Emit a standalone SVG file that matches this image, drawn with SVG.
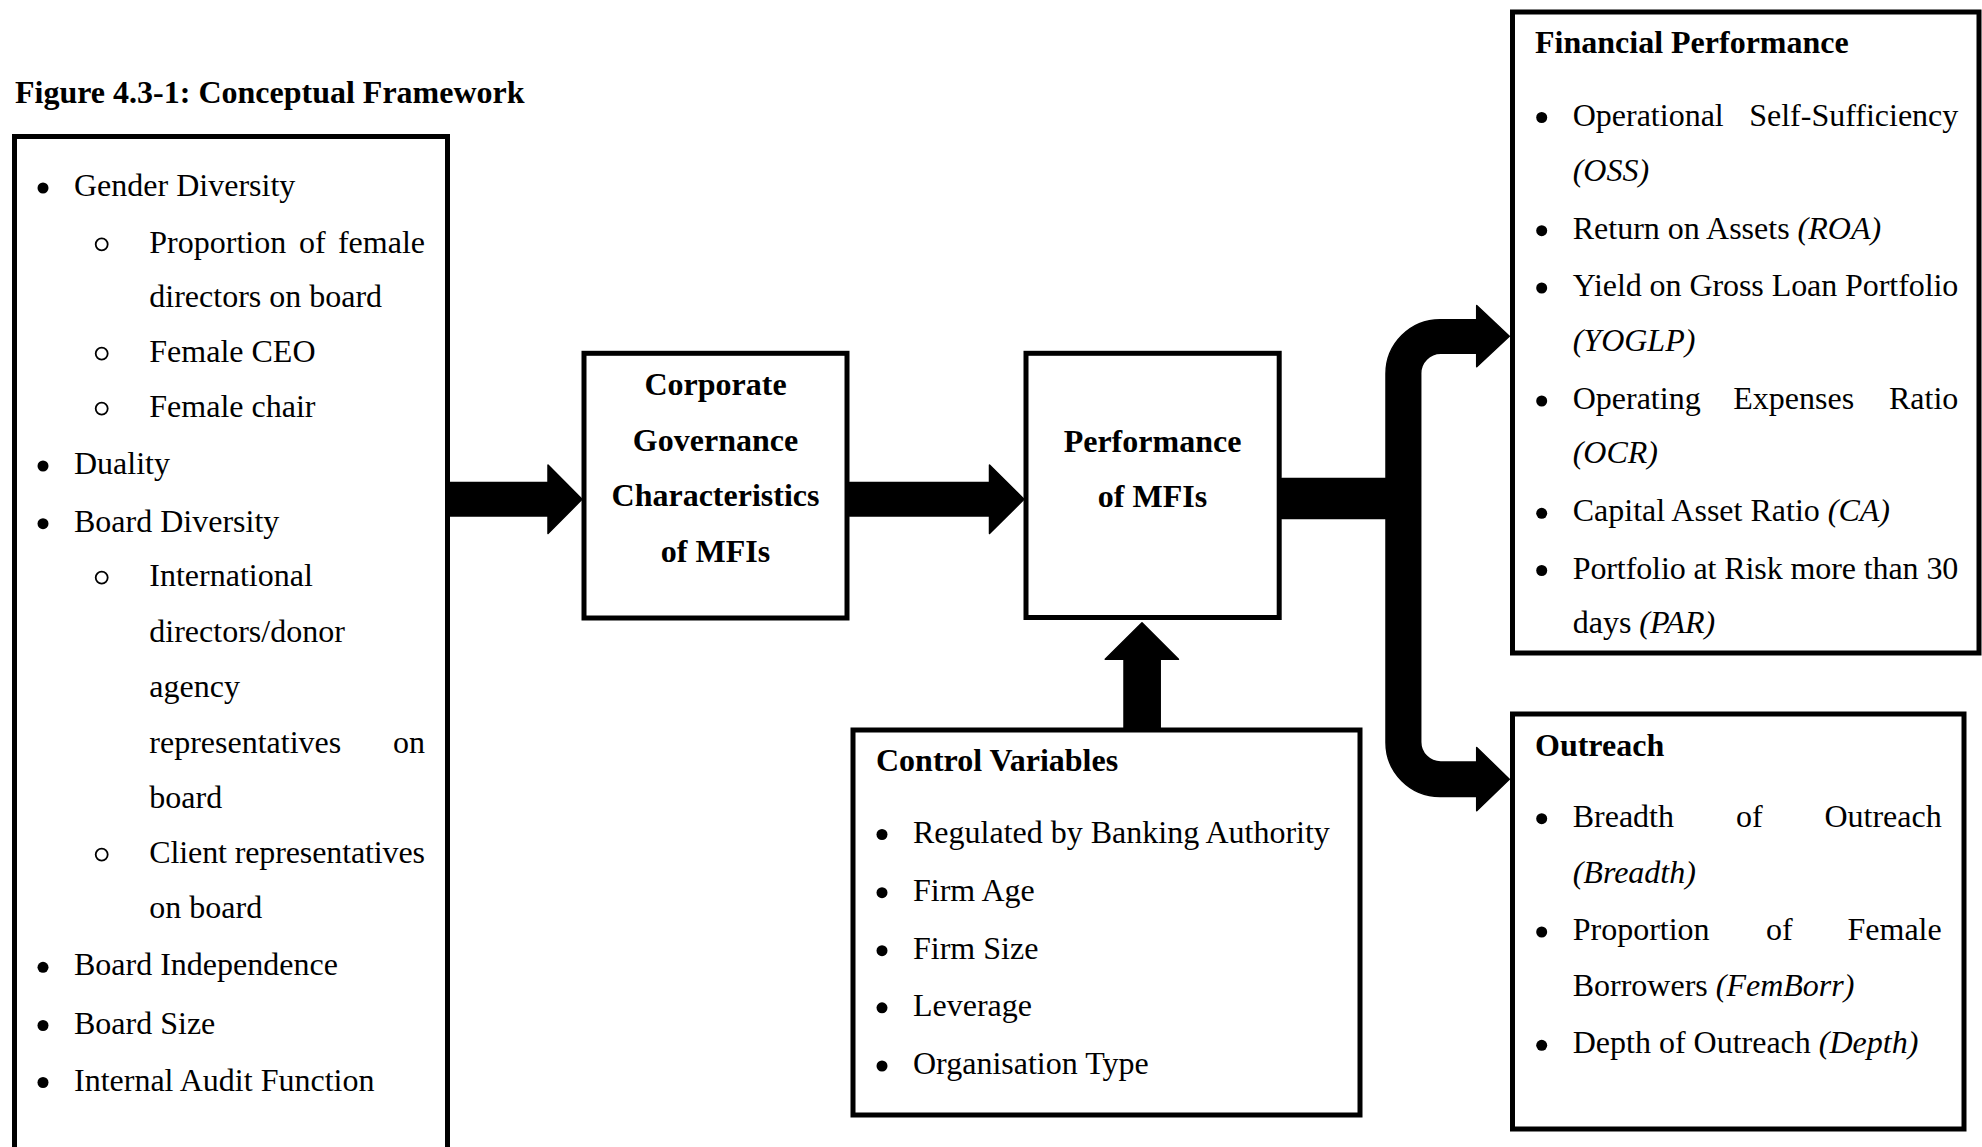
<svg xmlns="http://www.w3.org/2000/svg" width="1982" height="1147" viewBox="0 0 1982 1147">
<style>
text{font-family:"Liberation Serif","Times New Roman",serif;font-size:32px;fill:#000}
.b{font-weight:bold}
.c{text-anchor:middle}
.e{text-anchor:end}
.i{font-style:italic}
.box{fill:#fff;stroke:#000;stroke-width:5}
.dot{fill:#000}
.ring{fill:none;stroke:#000;stroke-width:1.8}
.arr{fill:#000;stroke:#000;stroke-width:1.5;stroke-linejoin:round}
</style>
<rect width="1982" height="1147" fill="#fff"/>
<text class="b" x="15" y="102.7">Figure 4.3-1: Conceptual Framework</text>

<g id="connectors">
<polygon class="arr" points="450,482.5 548,482.5 548,465 582,499.3 548,533.5 548,516 450,516"/>
<polygon class="arr" points="849.5,482.5 989.5,482.5 989.5,465 1024,499.3 989.5,533.5 989.5,516 849.5,516"/>
<polygon class="arr" points="1142,622.7 1178.5,659.3 1160.2,659.3 1160.2,728 1124,728 1124,659.3 1105.2,659.3"/>
<path class="arr" d="M1509.3,336.3 L1476.7,305.5 L1476.7,319.7 L1440,319.7 A54,54 0 0 0 1386,373.7 L1386,478.5 L1281.7,478.5 L1281.7,518.5 L1386,518.5 L1386,742.5 A54,54 0 0 0 1440,796.5 L1476.7,796.5 L1476.7,810.7 L1509.3,779.3 L1476.7,747.5 L1476.7,762 L1440.7,762 A20,20 0 0 1 1420.7,742 L1420.7,373.3 A20,20 0 0 1 1440.7,353.3 L1476.7,353.3 L1476.7,366.7 Z"/>
</g>

<g id="governance-variables">
<rect class="box" x="14.5" y="136.5" width="433" height="1015"/>
<circle class="dot" cx="43" cy="188" r="5.5"/><text x="74" y="196">Gender Diversity</text>
<circle class="ring" cx="101.7" cy="244.3" r="6"/><text x="149.3" y="252.7">Proportion</text><text x="299" y="252.7">of</text><text class="e" x="425" y="252.7">female</text>
<text x="149.3" y="307">directors on board</text>
<circle class="ring" cx="101.7" cy="353.6" r="6"/><text x="149.3" y="362">Female CEO</text>
<circle class="ring" cx="101.7" cy="408.6" r="6"/><text x="149.3" y="417">Female chair</text>
<circle class="dot" cx="43" cy="466" r="5.5"/><text x="74" y="474">Duality</text>
<circle class="dot" cx="43" cy="523.7" r="5.5"/><text x="74" y="531.7">Board Diversity</text>
<circle class="ring" cx="101.7" cy="577.6" r="6"/><text x="149.3" y="586">International</text>
<text x="149.3" y="641.6">directors/donor</text>
<text x="149.3" y="697">agency</text>
<text x="149.3" y="752.5">representatives</text><text class="e" x="425" y="752.5">on</text>
<text x="149.3" y="807.5">board</text>
<circle class="ring" cx="101.7" cy="854.6" r="6"/><text x="149.3" y="863" textLength="275.7" lengthAdjust="spacing">Client representatives</text>
<text x="149.3" y="918">on board</text>
<circle class="dot" cx="43" cy="967.3" r="5.5"/><text x="74" y="975.3">Board Independence</text>
<circle class="dot" cx="43" cy="1025.5" r="5.5"/><text x="74" y="1033.5">Board Size</text>
<circle class="dot" cx="43" cy="1082.5" r="5.5"/><text x="74" y="1090.5">Internal Audit Function</text>
</g>

<g id="corporate-governance">
<rect class="box" x="584" y="353.3" width="263" height="264.7"/>
<text class="b c" x="715.5" y="395">Corporate</text>
<text class="b c" x="715.5" y="450.7">Governance</text>
<text class="b c" x="715.5" y="506">Characteristics</text>
<text class="b c" x="715.5" y="561.7">of MFIs</text>
</g>

<g id="performance">
<rect class="box" x="1026" y="353.3" width="253.2" height="264.2"/>
<text class="b c" x="1152.5" y="451.7">Performance</text>
<text class="b c" x="1152.5" y="507.3">of MFIs</text>
</g>

<g id="control-variables">
<rect class="box" x="853" y="730" width="507" height="385"/>
<text class="b" x="876" y="771">Control Variables</text>
<circle class="dot" cx="882" cy="834.5" r="5.5"/><text x="913" y="842.5">Regulated by Banking Authority</text>
<circle class="dot" cx="882" cy="892.7" r="5.5"/><text x="913" y="900.7">Firm Age</text>
<circle class="dot" cx="882" cy="950.7" r="5.5"/><text x="913" y="958.7">Firm Size</text>
<circle class="dot" cx="882" cy="1007.8" r="5.5"/><text x="913" y="1015.8">Leverage</text>
<circle class="dot" cx="882" cy="1066" r="5.5"/><text x="913" y="1074">Organisation Type</text>
</g>

<g id="financial-performance">
<rect class="box" x="1512.5" y="12" width="466.5" height="641"/>
<text class="b" x="1535" y="52.6">Financial Performance</text>
<circle class="dot" cx="1541.7" cy="117.5" r="5.5"/><text x="1572.7" y="125.5">Operational</text><text class="e" x="1958.3" y="125.5">Self-Sufficiency</text>
<text class="i" x="1572.7" y="180.5">(OSS)</text>
<circle class="dot" cx="1541.7" cy="230.7" r="5.5"/><text x="1572.7" y="238.7">Return on Assets <tspan class="i">(ROA)</tspan></text>
<circle class="dot" cx="1541.7" cy="288" r="5.5"/><text x="1572.7" y="296" textLength="385.6" lengthAdjust="spacing">Yield on Gross Loan Portfolio</text>
<text class="i" x="1572.7" y="350.5">(YOGLP)</text>
<circle class="dot" cx="1541.7" cy="401" r="5.5"/><text x="1572.7" y="409">Operating</text><text x="1733.3" y="409">Expenses</text><text class="e" x="1958.3" y="409">Ratio</text>
<text class="i" x="1572.7" y="463.2">(OCR)</text>
<circle class="dot" cx="1541.7" cy="513.3" r="5.5"/><text x="1572.7" y="521.3">Capital Asset Ratio <tspan class="i">(CA)</tspan></text>
<circle class="dot" cx="1541.7" cy="570.5" r="5.5"/><text x="1572.7" y="578.5" textLength="385.6" lengthAdjust="spacing">Portfolio at Risk more than 30</text>
<text x="1572.7" y="633">days <tspan class="i">(PAR)</tspan></text>
</g>

<g id="outreach">
<rect class="box" x="1512.5" y="714" width="451.5" height="415"/>
<text class="b" x="1535" y="756">Outreach</text>
<circle class="dot" cx="1541.7" cy="818.7" r="5.5"/><text x="1572.7" y="826.7">Breadth</text><text x="1736" y="826.7">of</text><text class="e" x="1941.7" y="826.7">Outreach</text>
<text class="i" x="1572.7" y="883.3">(Breadth)</text>
<circle class="dot" cx="1541.7" cy="932" r="5.5"/><text x="1572.7" y="940">Proportion</text><text x="1766" y="940">of</text><text class="e" x="1941.7" y="940">Female</text>
<text x="1572.7" y="996">Borrowers <tspan class="i">(FemBorr)</tspan></text>
<circle class="dot" cx="1541.7" cy="1045.3" r="5.5"/><text x="1572.7" y="1053.3">Depth of Outreach <tspan class="i">(Depth)</tspan></text>
</g>
</svg>
